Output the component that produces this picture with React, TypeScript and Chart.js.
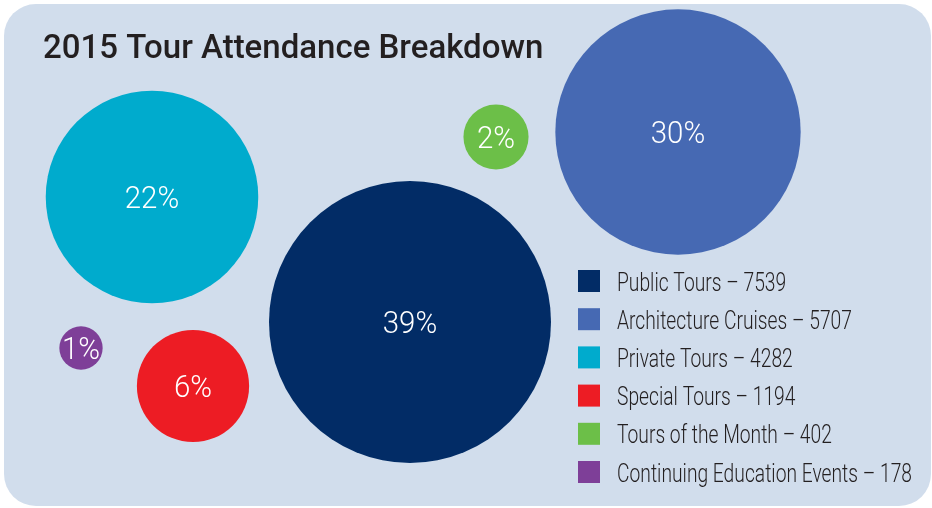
import React, { useEffect, useRef } from "react";
import { Chart, registerables } from "chart.js";

Chart.register(...registerables);

const titleText = "2015 Tour Attendance Breakdown";
const categories = [
  "Public Tours",
  "Architecture Cruises",
  "Private Tours",
  "Special Tours",
  "Tours of the Month",
  "Continuing Education Events",
];
const attendance = [7539, 5707, 4282, 1194, 402, 178];
// bubble placement on the (hidden) layout scales
const bubbleX = [410, 678, 152, 193, 496, 81];
const bubbleY = [322, 132, 197, 386, 137, 348];
const colors = ["#022c66", "#4669b3", "#00abcd", "#ed1c24", "#6cbf48", "#7e3f98"];

const W = 932;
const H = 508;
const LIGHT = '300 {S}px "Roboto", "Liberation Sans", sans-serif';

function narrowText(ctx: CanvasRenderingContext2D, text: string, x: number, y: number, sx: number, align: CanvasTextAlign) {
  ctx.save();
  ctx.translate(x, y);
  ctx.scale(sx, 1);
  ctx.textAlign = align;
  ctx.fillText(text, 0, 0);
  ctx.restore();
}

export default function App() {
  const ref = useRef<HTMLCanvasElement | null>(null);

  useEffect(() => {
    document.body.style.margin = "0";
    const canvas = ref.current;
    if (!canvas) return;
    const total = attendance.reduce((a, b) => a + b, 0);
    const K = 141 / Math.sqrt(Math.max(...attendance));

    const decor = {
      id: "decor",
      beforeDraw(chart: any) {
        const ctx = chart.ctx;
        ctx.save();
        ctx.fillStyle = "#ffffff";
        ctx.fillRect(0, 0, W, H);
        ctx.fillStyle = "#d1ddec";
        ctx.beginPath();
        (ctx as any).roundRect(4, 4, 927, 502, 32);
        ctx.fill();
        // title
        ctx.fillStyle = "#231f20";
        ctx.font = '500 33px "Roboto", "Liberation Sans", sans-serif';
        ctx.textBaseline = "alphabetic";
        ctx.textAlign = "left";
        ctx.fillText(titleText, 43, 58);
        ctx.restore();
      },
      afterDraw(chart: any) {
        const ctx = chart.ctx;
        ctx.save();
        const meta = chart.getDatasetMeta(0);
        ctx.fillStyle = "#ffffff";
        ctx.font = LIGHT.replace("{S}", "32");
        ctx.textBaseline = "alphabetic";
        meta.data.forEach((el: any, i: number) => {
          const pct = Math.round((attendance[i] / total) * 100) + "%";
          narrowText(ctx, pct, el.x, el.y + 11, 0.92, "center");
        });
        // legend
        ctx.textBaseline = "alphabetic";
        ctx.font = LIGHT.replace("{S}", "25");
        categories.forEach((c, i) => {
          const y = 270 + 38.2 * i;
          ctx.fillStyle = colors[i];
          ctx.fillRect(578, y, 22, 22);
          ctx.fillStyle = "#231f20";
          narrowText(ctx, c + " \u2013 " + attendance[i], 617, y + 20.5, 0.77, "left");
        });
        ctx.restore();
      },
    };

    const chart = new Chart(canvas, {
      type: "bubble",
      data: {
        datasets: [
          {
            label: "Attendance",
            data: attendance.map((v, i) => ({ x: bubbleX[i], y: bubbleY[i] })),
            backgroundColor: colors,
            borderWidth: 0,
            radius: (c: any) => K * Math.sqrt(attendance[c.dataIndex]),
            hoverRadius: 0,
            clip: false as any,
          } as any,
        ],
      },
      options: {
        responsive: false,
        animation: false,
        events: [],
        layout: { padding: 0, autoPadding: false },
        plugins: { legend: { display: false }, tooltip: { enabled: false } },
        scales: {
          x: { type: "linear", min: 0, max: W, display: false },
          y: { type: "linear", min: 0, max: H, reverse: true, display: false },
        },
      },
      plugins: [decor],
    });
    return () => chart.destroy();
  }, []);

  return (
    <div style={{ width: W, height: H }}>
      <canvas ref={ref} width={W} height={H} style={{ display: "block" }} />
    </div>
  );
}
